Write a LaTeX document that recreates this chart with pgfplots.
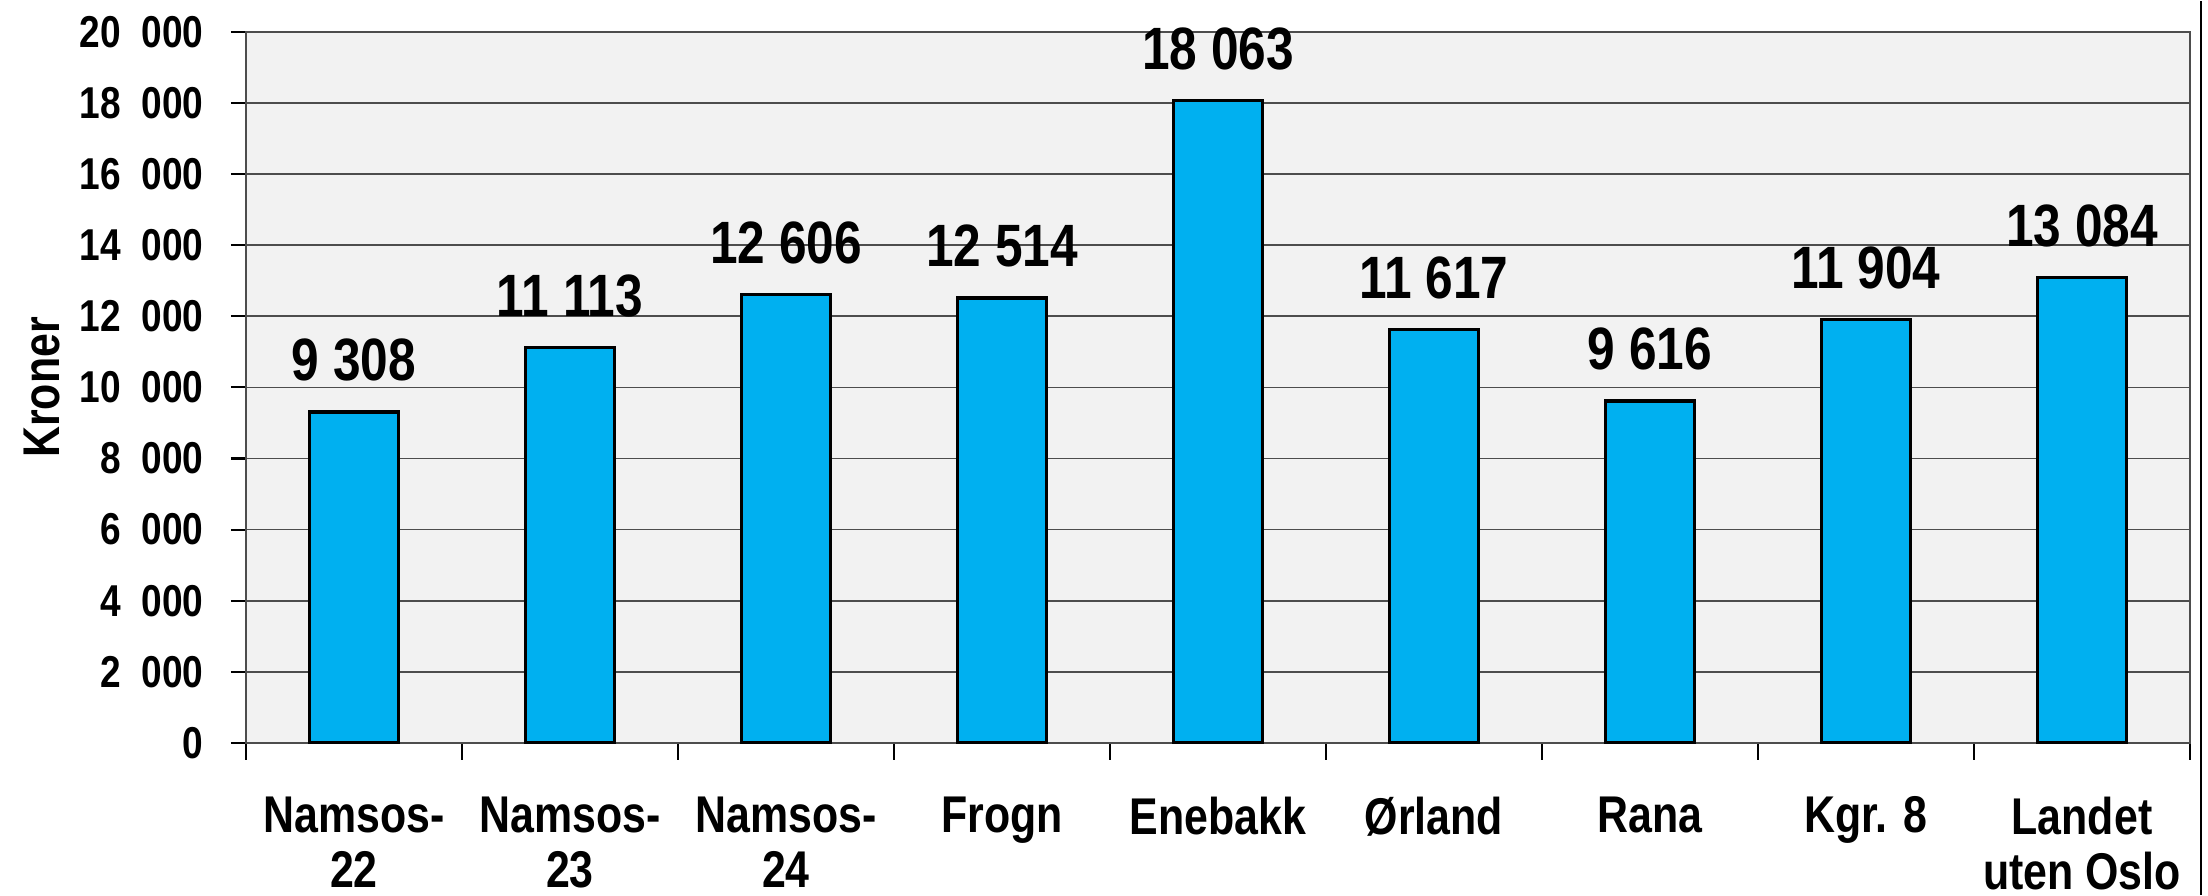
\documentclass[border=0pt]{standalone}
\usepackage{pgfplots}
\pgfplotsset{compat=1.18}
\usepackage{fontspec}
\setmainfont{Liberation Sans}[FakeStretch=0.83]
\definecolor{barblue}{HTML}{00B0F0}
\definecolor{plotbg}{HTML}{F2F2F2}
\definecolor{gridc}{HTML}{4D4D4D}

\begin{document}
\begin{tikzpicture}
\begin{axis}[
    scale only axis,
    width=19.44cm, height=7.11cm,
    xmin=-0.5, xmax=8.5,
    ymin=0, ymax=20000,
    axis background/.style={fill=plotbg},
    axis line style={draw=gridc, line width=0.6pt},
    ymajorgrids,
    grid style={gridc, line width=0.5pt},
    ytick={0,2000,...,20000},
    scaled y ticks=false,
    xtick={0,...,8},
    minor xtick={-0.5,0.5,...,8.5},
    xticklabels={{Namsos-\\22},{Namsos-\\23},{Namsos-\\24},Frogn,Enebakk,Ørland,Rana,Kgr. 8,{Landet\\uten Oslo}},
    tick align=outside,
    xtick style={draw=none},
    minor x tick style={draw=black, line width=0.6pt},
    minor tick length=0.17cm,
    ytick style={draw=black, line width=0.6pt},
    major tick length=0.15cm,
    tick pos=left,
    /pgf/number format/assume math mode=true,
    yticklabel style={font=\fontsize{12.7}{13}\selectfont\bfseries, inner sep=0pt, xshift=-0.27cm,
        /pgf/number format/fixed, /pgf/number format/1000 sep={\ \ }},
    xticklabel style={font=\fontsize{14.7}{15.8}\selectfont\bfseries, align=center, anchor=north, inner sep=0pt, yshift=-0.38cm},
    ylabel={Kroner},
    ylabel style={font=\fontsize{14.7}{15}\selectfont\bfseries, at={(axis description cs:-0.105,0.5)}, anchor=center},
    nodes near coords,
    every node near coord/.append style={font=\fontsize{17}{17}\selectfont\bfseries, anchor=south, inner sep=0pt, yshift=0.29cm,
        /pgf/number format/fixed, /pgf/number format/1000 sep={\ }},
    clip=false,
]
\addplot[ybar, bar width=0.41, fill=barblue, draw=black, line width=0.9pt] coordinates {
    (0, 9308)
    (1, 11113)
    (2, 12606)
    (3, 12514)
    (4, 18063)
    (5, 11617)
    (6, 9616)
    (7, 11904)
    (8, 13084)
};
\coordinate (O) at (rel axis cs:0,0);
\end{axis}
\draw[black, line width=0.5pt] ([shift={(19.55cm,-1.52cm)}]O) -- ([shift={(19.55cm,7.42cm)}]O);
\path ([shift={(-2.46cm,-1.52cm)}]O) rectangle ([shift={(19.62cm,7.42cm)}]O);
\end{tikzpicture}
\end{document}
